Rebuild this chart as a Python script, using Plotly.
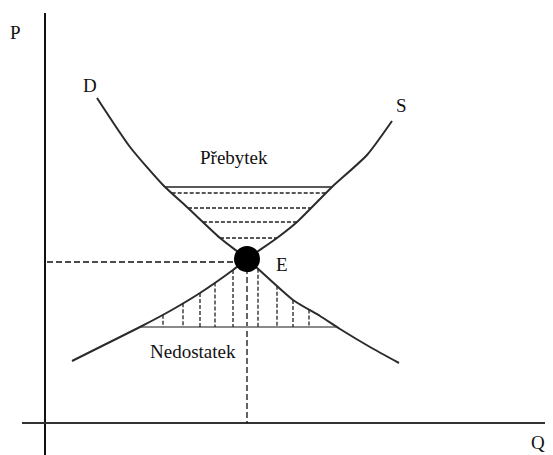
import numpy as np
import plotly.graph_objects as go

# Demand curve (quantity, price) in picture units (price grows downward in pixel space)
D_q = [97, 130, 163, 188, 220, 247, 293, 320, 340, 370, 399]
D_p = [98, 147, 185, 208, 238, 259, 300, 316, 329, 347, 363]
# Supply curve
S_q = [72, 100, 140, 170, 200, 233, 247, 277, 297, 332, 367, 392]
S_p = [361, 347, 327, 311, 293, 270, 259, 238, 222, 187, 155, 121]

E_q, E_p = 247, 259
surplus_levels = [187, 193, 208, 222, 238]
shortage_level = 327
shortage_q = [163, 183, 200, 215, 233, 258, 277, 293, 309]

axis_q0, axis_p0 = 45, 423

LINE = "#2b2b2b"
FONT = "Liberation Serif, Times New Roman, serif"
fig = go.Figure()

def seg(x, y, color=LINE, width=1.5, dash="solid"):
    fig.add_trace(go.Scatter(x=x, y=y, mode="lines", hoverinfo="skip",
                             line=dict(color=color, width=width, dash=dash)))

# axes
seg([axis_q0, axis_q0], [13, 455], "#111", 2)
seg([22, 553], [axis_p0, axis_p0], "#333", 2)

# guide lines
seg([axis_q0 + 2, E_q - 10], [E_p + 3, E_p + 3], "#111", 1.3, "6px,3px")
seg([E_q, E_q], [E_p, axis_p0], "#111", 1.3, "6px,3px")

D_q_a, D_p_a = np.array(D_q), np.array(D_p)
S_q_a, S_p_a = np.array(S_q), np.array(S_p)

# surplus hatching (horizontal)
for i, p in enumerate(surplus_levels):
    up = D_p_a <= E_p
    xd = np.interp(p, D_p_a[up], D_q_a[up])
    us = S_p_a <= E_p
    xs = np.interp(p, S_p_a[us][::-1], S_q_a[us][::-1])
    seg([xd, xs], [p, p], "#222", 1.6 if i == 0 else 1.4, "solid" if i == 0 else "4px,2px")

# shortage hatching (vertical)
lo_s = S_p_a >= E_p
lo_d = D_p_a >= E_p
xs_b = np.interp(shortage_level, S_p_a[lo_s][::-1], S_q_a[lo_s][::-1])
xd_b = np.interp(shortage_level, D_p_a[lo_d], D_q_a[lo_d])
seg([xs_b, xd_b], [shortage_level, shortage_level], "#8a8a8a", 2.2)
for q in shortage_q:
    if q < E_q:
        top = np.interp(q, S_q_a[lo_s], S_p_a[lo_s])
    else:
        top = np.interp(q, D_q_a[lo_d], D_p_a[lo_d])
    seg([q, q], [top, shortage_level], "#222", 1.3, "4px,2px")

# curves
fig.add_trace(go.Scatter(x=D_q, y=D_p, mode="lines", hoverinfo="skip",
                         line=dict(color=LINE, width=2, shape="spline", smoothing=0.6)))
fig.add_trace(go.Scatter(x=S_q, y=S_p, mode="lines", hoverinfo="skip",
                         line=dict(color=LINE, width=2, shape="spline", smoothing=0.6)))

# equilibrium point
fig.add_trace(go.Scatter(x=[E_q], y=[E_p], mode="markers", hoverinfo="skip",
                         marker=dict(color="black", size=26)))

labels = [("P", 15, 32), ("Q", 538, 442), ("D", 90, 85), ("S", 401, 105),
          ("Přebytek", 234, 157), ("E", 282, 264), ("Nedostatek", 193, 351)]
for t, x, y in labels:
    fig.add_annotation(x=x, y=y, text=t, showarrow=False, xanchor="center", yanchor="middle",
                       font=dict(family=FONT, size=19, color="#111"))

# page body has an 8px margin: shrink the figure and start the ranges at 8
fig.update_layout(width=545, height=447, margin=dict(l=0, r=0, t=0, b=0),
                  paper_bgcolor="white", plot_bgcolor="white", showlegend=False,
                  xaxis=dict(range=[8, 553], visible=False, fixedrange=True),
                  yaxis=dict(range=[455, 8], visible=False, fixedrange=True))
fig.write_html("out.html")
